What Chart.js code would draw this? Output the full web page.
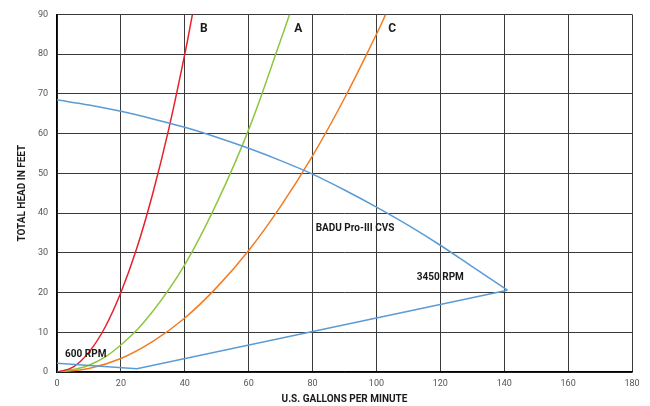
<!DOCTYPE html>
<html>
<head>
<meta charset="utf-8">
<script src="https://cdn.jsdelivr.net/npm/chart.js@4/dist/chart.umd.min.js"></script>
<style>
  html, body { margin: 0; padding: 0; background: #fff; }
  #wrap { width: 650px; height: 406px; }
</style>
</head>
<body>
<div id="wrap"><canvas id="chart"></canvas></div>
<script>
// pump curve (blue), curve + return lines to 600 rpm
var baduX = [0, 10, 20, 30, 40, 50, 60, 70, 80, 90, 100, 110, 120, 130, 141];
var baduY = [68.5, 67.2, 65.6, 63.7, 61.6, 59.1, 56.3, 53.2, 49.8, 45.8, 41.5, 36.9, 31.9, 26.5, 20.6];
var rpmX = [141, 25, 0];
var rpmY = [20.6, 0.8, 2.2];

// system curves
var bX = [0, 5, 10, 15, 20, 25, 30, 35, 40, 42.4];
var bY = [0, 1.2, 5, 11.2, 20, 31.2, 45, 61.2, 80, 90];
var aX = [0, 10, 20, 30, 40, 50, 60, 70, 72.8];
var aY = [0, 1.7, 6.8, 15.3, 27, 42.5, 61, 83.5, 90];
var cX = [0, 10, 20, 30, 40, 50, 60, 70, 80, 90, 100, 102.9];
var cY = [0, 0.9, 3.4, 7.7, 13.6, 21.3, 30.6, 41.7, 54.4, 68.9, 85, 90];

// text labels [text, x, y]
var notes = [
  ["B", 46, 86.2],
  ["A", 75.5, 86.2],
  ["C", 104.9, 86.2],
  ["BADU Pro-III CVS", 93.3, 36.2],
  ["3450 RPM", 120, 23.9],
  ["600 RPM", 9, 4.3]
];

function pts(xs, ys) {
  var out = [];
  for (var i = 0; i < xs.length; i++) out.push({x: xs[i], y: ys[i]});
  return out;
}

var notePlugin = {
  id: 'notes',
  afterDatasetsDraw: function(chart) {
    var c = chart.ctx, sx = chart.scales.x, sy = chart.scales.y;
    c.save();
    c.fillStyle = '#1a1a1a';
    c.textAlign = 'center';
    c.textBaseline = 'middle';
    notes.forEach(function(n) {
      c.font = n[0].length == 1 ? 'bold 12px Roboto' : 'bold 10px Roboto';
      c.fillText(n[0], sx.getPixelForValue(n[1]), sy.getPixelForValue(n[2]));
    });
    c.restore();
  }
};

function line(data, color, tension) {
  return {
    data: data, borderColor: color, backgroundColor: color,
    borderWidth: 1.5, pointRadius: 0, showLine: true, tension: tension, fill: false
  };
}

new Chart(document.getElementById('chart'), {
  type: 'scatter',
  data: {
    datasets: [
      line(pts(baduX, baduY), '#5b9bd5', 0.3),
      line(pts(rpmX, rpmY), '#5b9bd5', 0),
      line(pts(bX, bY), '#e8202a', 0.4),
      line(pts(aX, aY), '#8dc63f', 0.4),
      line(pts(cX, cY), '#f47b20', 0.4)
    ]
  },
  options: {
    responsive: true,
    maintainAspectRatio: false,
    animation: false,
    layout: { padding: { left: 0, right: 18, top: 14, bottom: 0 } },
    plugins: { legend: { display: false }, tooltip: { enabled: false } },
    scales: {
      x: {
        type: 'linear', min: 0, max: 180,
        ticks: { stepSize: 20, color: '#555', font: { family: 'Roboto', size: 9 }, padding: 6 },
        grid: { color: '#3a3a3a', lineWidth: 1, drawTicks: false },
        border: { color: '#000', width: 1.5 },
        title: { display: true, text: 'U.S. GALLONS PER MINUTE', color: '#1a1a1a',
                 font: { family: 'Roboto', size: 10, weight: 'bold' }, padding: { top: 6, bottom: 1 } },
        afterFit: function(s) { s.height = 34; }
      },
      y: {
        type: 'linear', min: 0, max: 90,
        ticks: { stepSize: 10, color: '#555', font: { family: 'Roboto', size: 9 }, padding: 9 },
        grid: { color: '#3a3a3a', lineWidth: 1, drawTicks: false },
        border: { color: '#000', width: 1.5 },
        title: { display: true, text: 'TOTAL HEAD IN FEET', color: '#1a1a1a',
                 font: { family: 'Roboto', size: 10, weight: 'bold' }, padding: { top: 16, bottom: 0 } },
        afterFit: function(s) { s.width = 57; }
      }
    }
  },
  plugins: [notePlugin]
});
</script>
</body>
</html>
